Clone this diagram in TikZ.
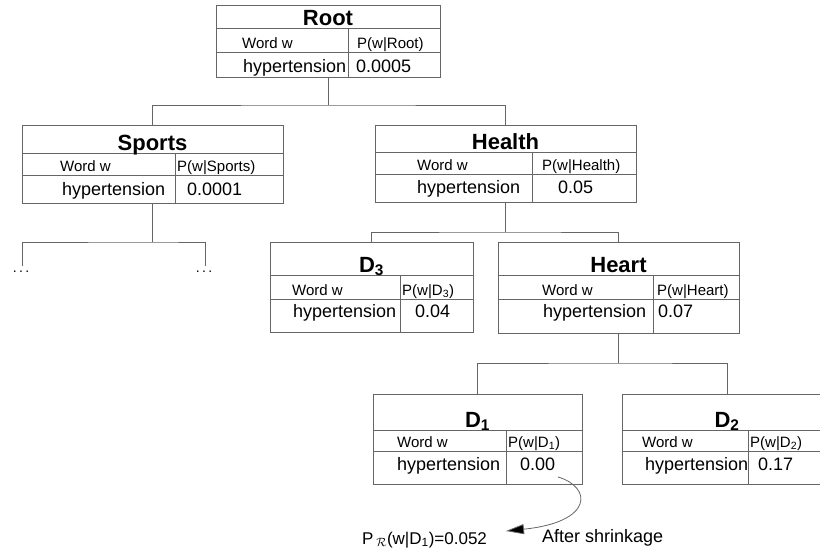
\documentclass[tikz,border=0pt]{standalone}
\usepackage{fontspec}
\setmainfont{Liberation Sans}
\usetikzlibrary{arrows.meta}
\tikzset{
  tline/.style={draw=black!60, line width=0.8pt},
  conn/.style={draw=black!60, line width=0.8pt},
  ttl/.style={font=\fontsize{22}{22}\selectfont\bfseries, anchor=base, inner sep=0pt},
  hdr/.style={font=\fontsize{15}{15}\selectfont, anchor=base west, inner sep=0pt},
  dat/.style={font=\fontsize{18}{18}\selectfont, anchor=base west, inner sep=0pt},
  note/.style={font=\fontsize{18}{18}\selectfont, anchor=base west, inner sep=0pt},
  dotsnode/.style={font=\fontsize{14}{14}\selectfont, inner sep=0pt},
}
% name, x, y, width, title-bottom offset, header-bottom offset, height, split offset
\newcommand\mytab[8]{%
  \node[tline, anchor=north west, minimum width=#4pt, minimum height=#7pt, inner sep=0pt, outer sep=0pt] (#1) at (#2,#3) {};
  \draw[tline] ([yshift=-#5pt]#1.north west) -- ([yshift=-#5pt]#1.north east);
  \draw[tline] ([yshift=-#6pt]#1.north west) -- ([yshift=-#6pt]#1.north east);
  \draw[tline] ([xshift=#8pt,yshift=-#5pt]#1.north west) -- ([xshift=#8pt]#1.south west);
}
\begin{document}
\begin{tikzpicture}[x=1pt,y=-1pt]
\useasboundingbox (0,0) rectangle (820,557);
\fill[white] (0,0) rectangle (820,557);
\clip (0,0) rectangle (820,557);

% tables
\mytab{root}{216}{5}{224}{23}{47}{72}{132}
\mytab{sports}{22}{125}{261}{28}{50}{78}{153}
\mytab{health}{375}{125}{261}{27}{49}{77}{157}
\mytab{dthree}{270}{242}{203}{33}{57}{90}{130}
\mytab{heart}{498}{242}{241}{33}{57}{91}{155}
\mytab{done}{373}{394}{209}{36}{57}{90}{133}
\mytab{dtwo}{622}{394}{210}{36}{57}{90}{126}

% Root
\node[ttl] (root-t) at (328,25) {Root};
\node[hdr] (root-h1) at (242,48) {Word w};
\node[hdr] (root-h2) at (357,48) {P(w|Root)};
\node[dat] (root-d1) at (243,72) {hypertension};
\node[dat] (root-d2) at (356,72) {0.0005};
% Sports
\node[ttl] (sports-t) at (152.5,150) {Sports};
\node[hdr] (sports-h1) at (60,171) {Word w};
\node[hdr] (sports-h2) at (177,171) {P(w|Sports)};
\node[dat] (sports-d1) at (62,195) {hypertension};
\node[dat] (sports-d2) at (187,195) {0.0001};
% Health
\node[ttl] (health-t) at (505.5,149) {Health};
\node[hdr] (health-h1) at (417,170) {Word w};
\node[hdr] (health-h2) at (542,170) {P(w|Health)};
\node[dat] (health-d1) at (417,193) {hypertension};
\node[dat] (health-d2) at (558,193) {0.05};
% D3
\node[ttl] (dthree-t) at (371.5,272) {D\textsubscript{3}};
\node[hdr] (dthree-h1) at (292,295) {Word w};
\node[hdr] (dthree-h2) at (402,295) {P(w|D\textsubscript{3})};
\node[dat] (dthree-d1) at (293,317) {hypertension};
\node[dat] (dthree-d2) at (415,317) {0.04};
% Heart
\node[ttl] (heart-t) at (618.5,272) {Heart};
\node[hdr] (heart-h1) at (542,295) {Word w};
\node[hdr] (heart-h2) at (657,295) {P(w|Heart)};
\node[dat] (heart-d1) at (543,317) {hypertension};
\node[dat] (heart-d2) at (658,317) {0.07};
% D1
\node[ttl] (done-t) at (477.5,427) {D\textsubscript{1}};
\node[hdr] (done-h1) at (397,447) {Word w};
\node[hdr] (done-h2) at (508,447) {P(w|D\textsubscript{1})};
\node[dat] (done-d1) at (397,470) {hypertension};
\node[dat] (done-d2) at (520,470) {0.00};
% D2
\node[ttl] (dtwo-t) at (727,427) {D\textsubscript{2}};
\node[hdr] (dtwo-h1) at (642,447) {Word w};
\node[hdr] (dtwo-h2) at (750,447) {P(w|D\textsubscript{2})};
\node[dat] (dtwo-d1) at (645,470) {hypertension};
\node[dat] (dtwo-d2) at (758,470) {0.17};

% junctions
\coordinate (j1) at (328,105);
\coordinate (j2) at (505.5,232);
\coordinate (j3) at (618.5,363);
\coordinate (j4) at (152.5,242);
\coordinate (e1) at (22,266);
\coordinate (e2) at (205,266);

\draw[conn] (root.south) -- (j1);
\draw[conn] (sports.north) |- (j1) -| (health.north);
\draw[conn] (health.south) -- (j2);
\draw[conn] (dthree.north) |- (j2) -| (heart.north);
\draw[conn] (heart.south) -- (j3);
\draw[conn] (done.north) |- (j3) -| (dtwo.north);
\draw[conn] (sports.south) -- (j4);
\draw[conn] (e1) |- (j4) -| (e2);

\node[dotsnode] (dotsA) at (21,272) {.\,.\,.};
\node[dotsnode] (dotsB) at (204,272) {.\,.\,.};

% shrinkage annotation
\node[note, font=\fontsize{17}{17}\selectfont] (pr) at (362,544) {P\,$_{\mathcal{R}}$(w|D\textsubscript{1})=0.052};
\node[note] (after) at (542,542) {After shrinkage};
\coordinate (as) at (558,477);
\coordinate (ae) at (506,531);
\draw[conn, -{Triangle[length=18pt,width=10pt,fill=black]}] (as) .. controls (592,487) and (594,522) .. (ae);
\end{tikzpicture}
\end{document}
